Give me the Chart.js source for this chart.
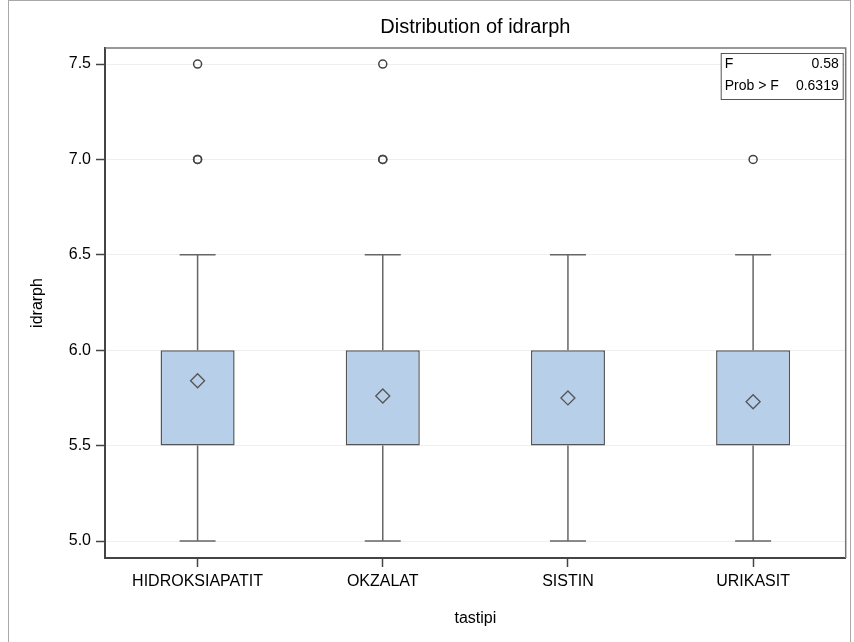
<!DOCTYPE html>
<html>
<head>
<meta charset="utf-8">
<script src="https://cdn.jsdelivr.net/npm/chart.js@4.4.1/dist/chart.umd.min.js"></script>
<style>
  body { margin: 0; background: #fff; }
  #frame { position: absolute; left: 8px; top: 0; width: 841px; height: 700px; border: 1px solid #a8a8a8; }
  #chart { position: absolute; left: 0; top: 0; }
</style>
</head>
<body>
<div id="frame"></div>
<canvas id="chart" width="854" height="642"></canvas>
<script>
// 데이터
const categories = ["HIDROKSIAPATIT", "OKZALAT", "SISTIN", "URIKASIT"];
const q1 = [5.5, 5.5, 5.5, 5.5];
const q3 = [6.0, 6.0, 6.0, 6.0];
const whiskerLow = [5.0, 5.0, 5.0, 5.0];
const whiskerHigh = [6.5, 6.5, 6.5, 6.5];
const means = [5.84, 5.76, 5.75, 5.73];
// 이상치 (같은 값은 여러 번 -> 진하게 보임)
const outlierCats = ["HIDROKSIAPATIT", "HIDROKSIAPATIT", "HIDROKSIAPATIT", "OKZALAT", "OKZALAT", "OKZALAT", "URIKASIT"];
const outlierVals = [7.5, 7.0, 7.0, 7.5, 7.0, 7.0, 7.0];
const yTicks = [5.0, 5.5, 6.0, 6.5, 7.0, 7.5];
const statLabels = ["F", "Prob > F"];
const statValues = ["0.58", "0.6319"];

const FONT = "'Liberation Sans', Arial, sans-serif";

// 수염, 테두리, 통계 박스 그리기
const boxExtras = {
  id: "boxExtras",
  beforeDatasetsDraw(chart) {
    const ctx = chart.ctx;
    const x = chart.scales.x;
    const y = chart.scales.y;
    ctx.save();
    ctx.strokeStyle = "#666";
    ctx.lineWidth = 1.5;
    for (let i = 0; i < categories.length; i++) {
      const cx = x.getPixelForValue(i);
      const yLo = y.getPixelForValue(whiskerLow[i]);
      const yHi = y.getPixelForValue(whiskerHigh[i]);
      const yQ1 = y.getPixelForValue(q1[i]);
      const yQ3 = y.getPixelForValue(q3[i]);
      ctx.beginPath();
      ctx.moveTo(cx, yQ3); ctx.lineTo(cx, yHi);
      ctx.moveTo(cx - 18, yHi); ctx.lineTo(cx + 18, yHi);
      ctx.moveTo(cx, yQ1); ctx.lineTo(cx, yLo);
      ctx.moveTo(cx - 18, yLo); ctx.lineTo(cx + 18, yLo);
      ctx.stroke();
    }
    ctx.restore();
  },
  afterDraw(chart) {
    const ctx = chart.ctx;
    const a = chart.chartArea;
    ctx.save();
    // 위쪽, 오른쪽 테두리
    ctx.strokeStyle = "#777";
    ctx.lineWidth = 1.5;
    ctx.beginPath();
    ctx.moveTo(a.left, a.top); ctx.lineTo(a.right, a.top); ctx.lineTo(a.right, a.bottom);
    ctx.stroke();
    // 통계 박스
    const bx = a.right - 125, by = a.top + 5, bw = 122, bh = 46;
    ctx.fillStyle = "#fff";
    ctx.fillRect(bx, by, bw, bh);
    ctx.strokeStyle = "#555";
    ctx.lineWidth = 1;
    ctx.strokeRect(bx + 0.5, by + 0.5, bw, bh);
    ctx.fillStyle = "#000";
    ctx.font = "14px " + FONT;
    ctx.textBaseline = "middle";
    for (let i = 0; i < statLabels.length; i++) {
      const ty = by + 11 + i * 22;
      ctx.textAlign = "left";
      ctx.fillText(statLabels[i], bx + 4, ty);
      ctx.textAlign = "right";
      ctx.fillText(statValues[i], bx + bw - 4, ty);
    }
    ctx.restore();
  }
};

new Chart(document.getElementById("chart"), {
  type: "bar",
  data: {
    labels: categories,
    datasets: [
      {
        type: "line",
        label: "Mean",
        data: means,
        showLine: false,
        pointStyle: "rectRot",
        pointRadius: 7,
        pointBorderColor: "#555",
        pointBackgroundColor: "rgba(0,0,0,0)",
        pointBorderWidth: 1.3,
        order: 0
      },
      {
        type: "line",
        label: "Outliers",
        data: outlierCats.map((c, i) => ({ x: c, y: outlierVals[i] })),
        showLine: false,
        pointStyle: "circle",
        pointRadius: 4,
        pointBorderColor: "#444",
        pointBackgroundColor: "rgba(0,0,0,0)",
        pointBorderWidth: 1.5,
        order: 1
      },
      {
        label: "Box",
        data: q1.map((v, i) => [v, q3[i]]),
        backgroundColor: "#b8cfe9",
        borderColor: "#555",
        borderWidth: 1.5,
        borderSkipped: false,
        categoryPercentage: 1,
        barPercentage: 0.4,
        order: 2
      }
    ]
  },
  options: {
    responsive: false,
    animation: false,
    layout: { padding: { left: 0, right: 7, top: 0, bottom: 0 } },
    plugins: {
      legend: { display: false },
      tooltip: { enabled: false },
      title: {
        display: true,
        fullSize: false,
        text: "Distribution of idrarph",
        color: "#000",
        font: { family: FONT, size: 20, weight: "normal" },
        padding: { top: 15, bottom: 9 }
      }
    },
    scales: {
      x: {
        type: "category",
        offset: true,
        grid: { offset: false, drawOnChartArea: false, drawTicks: true, tickLength: 9, tickColor: "#444", tickWidth: 1.5 },
        border: { display: true, color: "#444", width: 2 },
        ticks: { color: "#000", font: { family: FONT, size: 16 }, padding: 5, maxRotation: 0, autoSkip: false },
        title: { display: true, text: "tastipi", color: "#000", font: { family: FONT, size: 16 }, padding: { top: 14, bottom: 14 } },
        afterFit(scale) { scale.height = 84; }
      },
      y: {
        type: "linear",
        min: 4.911,
        max: 7.584,
        grid: { color: "#efefef", lineWidth: 1, drawTicks: true, tickLength: 9, tickColor: "#444", tickWidth: 1.5 },
        border: { display: true, color: "#444", width: 2 },
        ticks: {
          color: "#000",
          font: { family: FONT, size: 16 },
          padding: 5,
          callback: (v) => Number(v).toFixed(1)
        },
        afterBuildTicks(scale) { scale.ticks = yTicks.map(v => ({ value: v })); },
        title: { display: true, text: "idrarph", color: "#000", font: { family: FONT, size: 16 }, padding: { top: 28, bottom: 0 } },
        afterFit(scale) { scale.width = 105; }
      }
    }
  },
  plugins: [boxExtras]
});
</script>
</body>
</html>
